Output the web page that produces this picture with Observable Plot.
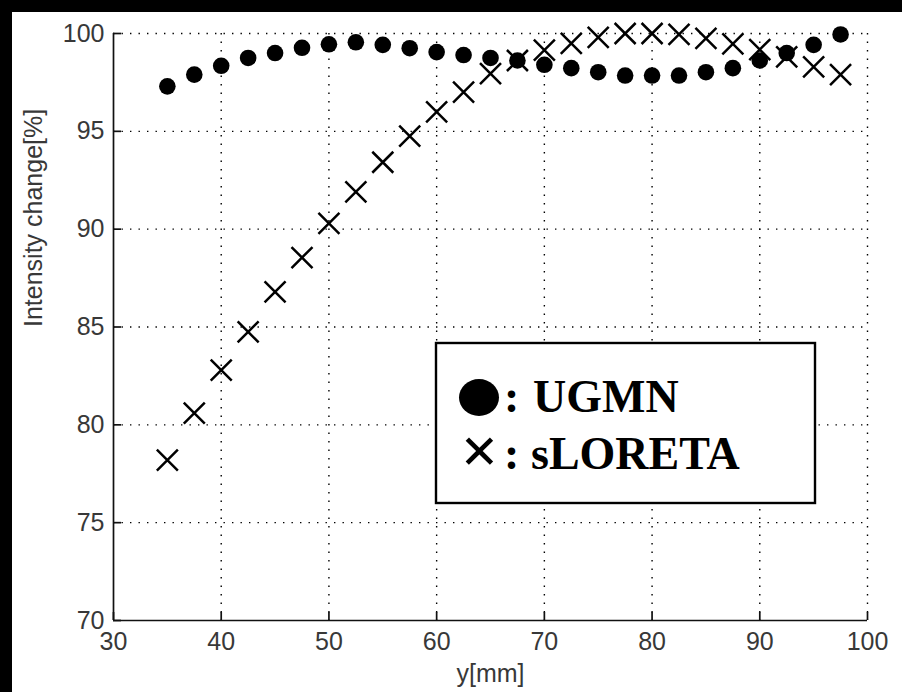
<!DOCTYPE html>
<html><head><meta charset="utf-8">
<script src="https://cdn.jsdelivr.net/npm/d3@7"></script>
<script src="https://cdn.jsdelivr.net/npm/@observablehq/plot@0.6"></script>
<style>
html,body{margin:0;padding:0;background:#fff;overflow:hidden;}
#wrap{position:relative;width:902px;height:692px;overflow:hidden;background:#fff;}
#wrap svg{position:absolute;left:0;top:0;}
.strip{position:absolute;background:#000;}
</style></head><body>
<div id="wrap"></div>
<script>
// ---- data ----
const yPosition = [35, 37.5, 40, 42.5, 45, 47.5, 50, 52.5, 55, 57.5, 60, 62.5, 65, 67.5, 70, 72.5, 75, 77.5, 80, 82.5, 85, 87.5, 90, 92.5, 95, 97.5];
const ugmn = [97.3, 97.9, 98.35, 98.75, 99.0, 99.27, 99.45, 99.55, 99.42, 99.25, 99.05, 98.9, 98.75, 98.62, 98.4, 98.23, 98.02, 97.85, 97.85, 97.85, 98.02, 98.23, 98.62, 99.0, 99.42, 99.95];
const sloreta = [78.2, 80.6, 82.8, 84.75, 86.8, 88.55, 90.3, 91.9, 93.42, 94.75, 96.0, 97.0, 97.95, 98.62, 99.15, 99.5, 99.8, 100.0, 100.0, 99.95, 99.75, 99.47, 99.18, 98.8, 98.3, 97.9];
const xTicks = [30, 40, 50, 60, 70, 80, 90, 100];
const yTicks = [70, 75, 80, 85, 90, 95, 100];
const seriesNames = ["UGMN", "sLORETA"];
const xLabel = "y[mm]";
const yLabel = "Intensity change[%]";

const ugmnData = yPosition.map((x, i) => ({x, v: ugmn[i]}));
const sloretaData = yPosition.map((x, i) => ({x, v: sloreta[i]}));

// ---- layout ----
const W = 902, H = 692, mL = 113, mT = 33, mR = 35, mB = 72;
const plotW = W - mL - mR, plotH = H - mT - mB;
const sans = "'Liberation Sans', Arial, Helvetica, sans-serif";
const txt = "#383838";

const chart = Plot.plot({
  width: W, height: H,
  marginLeft: mL, marginTop: mT, marginRight: mR, marginBottom: mB,
  style: {background: "transparent", fontFamily: sans, fontSize: "25px", color: txt, overflow: "visible"},
  x: {domain: [30, 100]},
  y: {domain: [70, 100]},
  marks: [
    // dotted grid
    Plot.ruleX(xTicks.filter(d => d > 30), {stroke: "#000", strokeWidth: 1.4, strokeDasharray: "1.4,7.1"}),
    Plot.ruleY(yTicks.filter(d => d > 70), {stroke: "#000", strokeWidth: 1.4, strokeDasharray: "1.4,7.1"}),
    // solid axes
    Plot.ruleX([30], {stroke: "#111", strokeWidth: 1.7}),
    Plot.ruleY([70], {stroke: "#111", strokeWidth: 1.7}),
    // inward ticks
    Plot.tickX(xTicks, {x: d => d, insetTop: plotH - 8, stroke: "#111", strokeWidth: 1.7}),
    Plot.tickY(yTicks, {y: d => d, insetRight: plotW - 8, stroke: "#111", strokeWidth: 1.7}),
    // tick labels
    Plot.axisX({ticks: xTicks, tickSize: 0, tickPadding: 12, label: null, fontSize: 25, fill: txt}),
    Plot.axisY({ticks: yTicks, tickSize: 0, tickPadding: 9, label: null, fontSize: 25, fill: txt}),
    // axis titles
    Plot.text([xLabel], {frameAnchor: "bottom", dy: 53, lineAnchor: "middle", fontSize: 25, fill: txt}),
    Plot.text([yLabel], {frameAnchor: "left", dx: -80, rotate: -90, lineAnchor: "middle", fontSize: 25, fill: txt}),
    // data
    Plot.dot(ugmnData, {x: "x", y: "v", r: 8.3, fill: "#000", stroke: "none"}),
    Plot.dot(sloretaData, {x: "x", y: "v", symbol: "times", r: 9.6, stroke: "#000", strokeWidth: 2.5})
  ]
});

const wrap = document.getElementById("wrap");
wrap.appendChild(chart);

// legend overlay (inside the plotting area)
const ns = "http://www.w3.org/2000/svg";
const lg = document.createElementNS(ns, "svg");
lg.setAttribute("width", W); lg.setAttribute("height", H);
const serif = "'Liberation Serif', 'Times New Roman', Times, serif";
function el(tag, attrs, text) {
  const e = document.createElementNS(ns, tag);
  for (const k in attrs) e.setAttribute(k, attrs[k]);
  if (text != null) e.textContent = text;
  lg.appendChild(e);
  return e;
}
el("rect", {x: 436, y: 343, width: 379, height: 160, fill: "#fff", stroke: "#000", "stroke-width": 2.4});
el("ellipse", {cx: 479, cy: 397.5, rx: 20, ry: 18.5, fill: "#000"});
const tAttr = {"font-family": serif, "font-weight": "bold", "font-size": 46, fill: "#000"};
el("text", {...tAttr, x: 504, y: 412}, ":");
el("text", {...tAttr, x: 533, y: 412}, seriesNames[0]);
el("text", {...tAttr, x: 479.5, y: 473, "text-anchor": "middle", "font-size": 66}, "\u00d7");
el("text", {...tAttr, x: 504, y: 469}, ":");
el("text", {...tAttr, x: 531, y: 469}, seriesNames[1]);
wrap.appendChild(lg);

// black strips along the top and left edges
for (const s of [{left: 0, top: 0, width: W, height: 12}, {left: 0, top: 0, width: 12, height: H}]) {
  const d = document.createElement("div");
  d.className = "strip";
  Object.assign(d.style, {left: s.left + "px", top: s.top + "px", width: s.width + "px", height: s.height + "px"});
  wrap.appendChild(d);
}
</script>
</body></html>
